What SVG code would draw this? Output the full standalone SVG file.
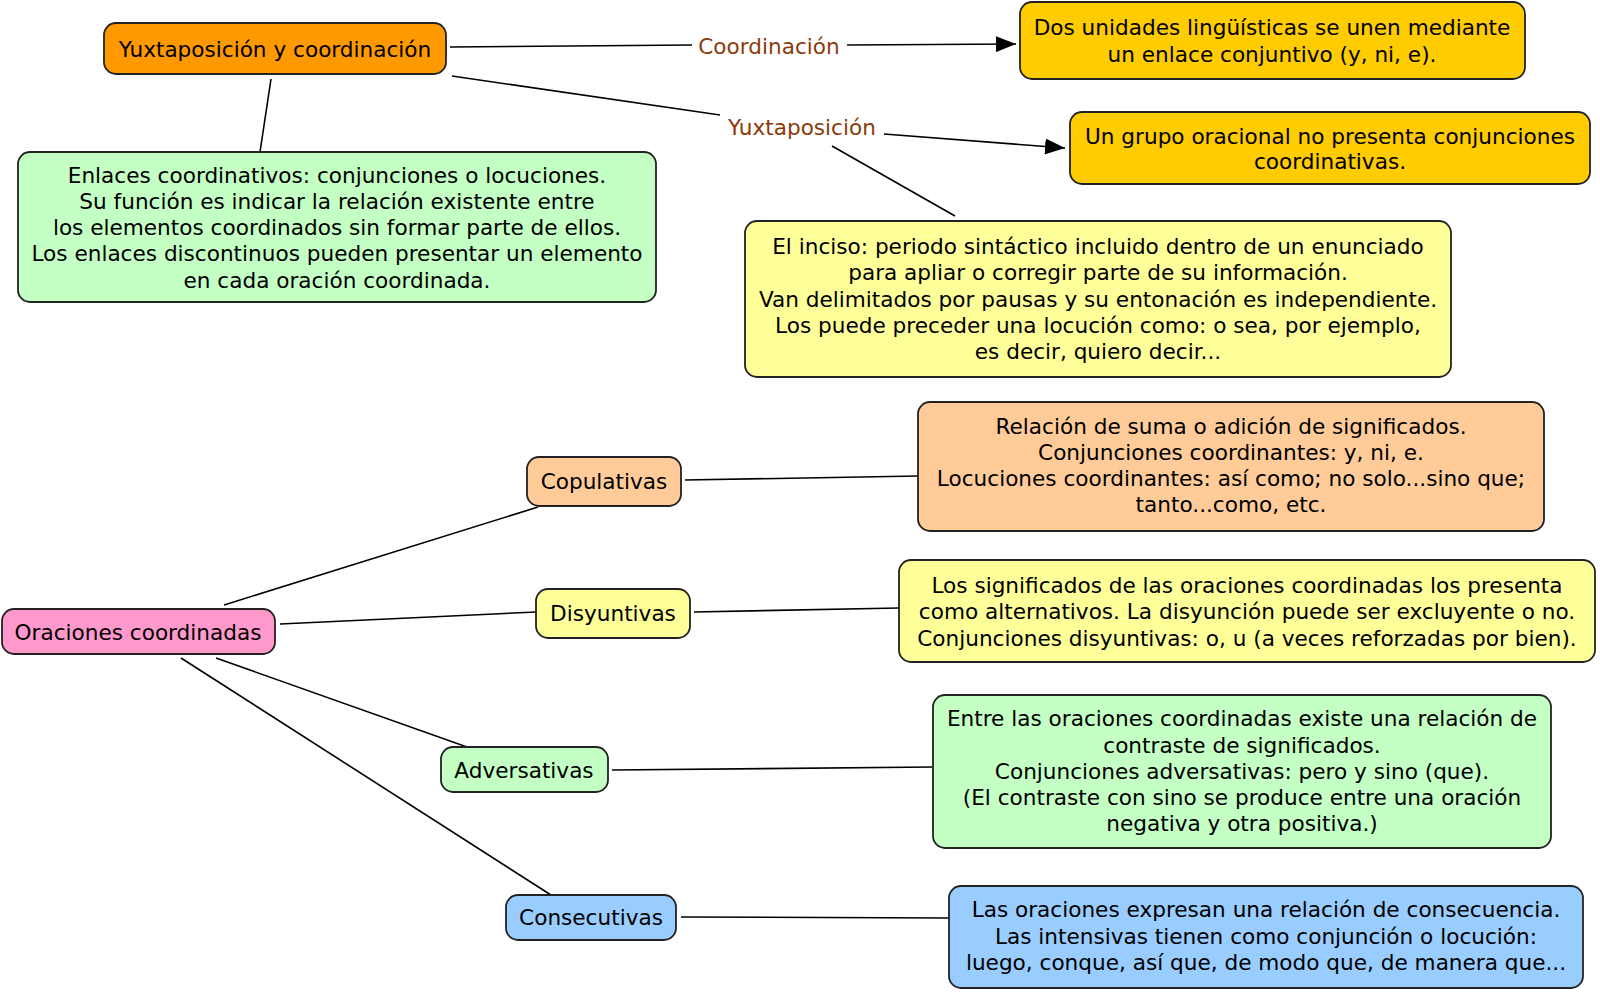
<svg xmlns="http://www.w3.org/2000/svg" width="1600" height="993" viewBox="0 0 1600 993">
<style>
.n{stroke:#222;stroke-width:1.8}
.t{font-family:"DejaVu Sans",Verdana,sans-serif;font-size:21.6px;fill:#000;text-anchor:middle;dominant-baseline:central}
.l{font-family:"DejaVu Sans",Verdana,sans-serif;font-size:21.6px;fill:#8B3A0A;text-anchor:middle;dominant-baseline:central}
.c{stroke:#000;stroke-width:1.6;fill:none}
</style>
<defs>
<marker id="ah" viewBox="0 0 20 16" refX="20" refY="8" markerWidth="20" markerHeight="16" markerUnits="userSpaceOnUse" orient="auto">
<path d="M0,0 L20,8 L0,16 Z" fill="#000"/>
</marker>
</defs>
<rect width="1600" height="993" fill="#fff"/>
<g id="connectors">
<line class="c" x1="450" y1="47" x2="692" y2="45"/>
<line class="c" x1="847" y1="45" x2="1016" y2="44" marker-end="url(#ah)"/>
<line class="c" x1="452" y1="76" x2="720" y2="115"/>
<line class="c" x1="884" y1="134" x2="1065" y2="148" marker-end="url(#ah)"/>
<line class="c" x1="832" y1="146" x2="955" y2="216"/>
<line class="c" x1="271" y1="79" x2="260" y2="152"/>
<line class="c" x1="224" y1="605" x2="538" y2="507"/>
<line class="c" x1="280" y1="624" x2="536" y2="612"/>
<line class="c" x1="216" y1="658" x2="467" y2="747"/>
<line class="c" x1="181" y1="658" x2="551" y2="895"/>
<line class="c" x1="685" y1="480" x2="918" y2="476"/>
<line class="c" x1="694" y1="612" x2="899" y2="608"/>
<line class="c" x1="612" y1="770" x2="933" y2="767"/>
<line class="c" x1="681" y1="917" x2="949" y2="918"/>
<text class="l" x="769" y="46">Coordinación</text>
<text class="l" x="802" y="127">Yuxtaposición</text>
</g>
<g id="yuxtaposicion-coordinacion">
<rect class="n" x="104" y="23" width="342" height="51" rx="12" fill="#FF9900"/>
<text class="t" x="275" y="49">Yuxtaposición y coordinación</text>
</g>
<g id="coordinacion-def">
<rect class="n" x="1020" y="2" width="505" height="77" rx="12" fill="#FFCC00"/>
<text class="t" x="1272" y="27">Dos unidades lingüísticas se unen mediante</text>
<text class="t" x="1272" y="54">un enlace conjuntivo (y, ni, e).</text>
</g>
<g id="yuxtaposicion-def">
<rect class="n" x="1070" y="112" width="520" height="72" rx="12" fill="#FFCC00"/>
<text class="t" x="1330" y="136">Un grupo oracional no presenta conjunciones</text>
<text class="t" x="1330" y="161">coordinativas.</text>
</g>
<g id="enlaces">
<rect class="n" x="18" y="152" width="638" height="150" rx="12" fill="#C4FFC4"/>
<text class="t" x="337" y="175">Enlaces coordinativos: conjunciones o locuciones.</text>
<text class="t" x="337" y="201">Su función es indicar la relación existente entre</text>
<text class="t" x="337" y="227">los elementos coordinados sin formar parte de ellos.</text>
<text class="t" x="337" y="253">Los enlaces discontinuos pueden presentar un elemento</text>
<text class="t" x="337" y="280">en cada oración coordinada.</text>
</g>
<g id="inciso">
<rect class="n" x="745" y="221" width="706" height="156" rx="12" fill="#FFFF99"/>
<text class="t" x="1098" y="246">El inciso: periodo sintáctico incluido dentro de un enunciado</text>
<text class="t" x="1098" y="272">para apliar o corregir parte de su información.</text>
<text class="t" x="1098" y="299">Van delimitados por pausas y su entonación es independiente.</text>
<text class="t" x="1098" y="325">Los puede preceder una locución como: o sea, por ejemplo,</text>
<text class="t" x="1098" y="351">es decir, quiero decir...</text>
</g>
<g id="oraciones-coordinadas">
<rect class="n" x="2" y="609" width="273" height="45" rx="12" fill="#FF99CC"/>
<text class="t" x="138" y="632">Oraciones coordinadas</text>
</g>
<g id="copulativas">
<rect class="n" x="527" y="457" width="154" height="49" rx="12" fill="#FFCC99"/>
<text class="t" x="604" y="481">Copulativas</text>
</g>
<g id="disyuntivas">
<rect class="n" x="536" y="589" width="154" height="49" rx="12" fill="#FFFF99"/>
<text class="t" x="613" y="613">Disyuntivas</text>
</g>
<g id="adversativas">
<rect class="n" x="441" y="747" width="167" height="45" rx="12" fill="#C4FFC4"/>
<text class="t" x="524" y="770">Adversativas</text>
</g>
<g id="consecutivas">
<rect class="n" x="506" y="895" width="170" height="45" rx="12" fill="#99CCFF"/>
<text class="t" x="591" y="917">Consecutivas</text>
</g>
<g id="copulativas-def">
<rect class="n" x="918" y="402" width="626" height="129" rx="12" fill="#FFCC99"/>
<text class="t" x="1231" y="426">Relación de suma o adición de significados.</text>
<text class="t" x="1231" y="452">Conjunciones coordinantes: y, ni, e.</text>
<text class="t" x="1231" y="478">Locuciones coordinantes: así como; no solo...sino que;</text>
<text class="t" x="1231" y="504">tanto...como, etc.</text>
</g>
<g id="disyuntivas-def">
<rect class="n" x="899" y="560" width="696" height="102" rx="12" fill="#FFFF99"/>
<text class="t" x="1247" y="585">Los significados de las oraciones coordinadas los presenta</text>
<text class="t" x="1247" y="611">como alternativos. La disyunción puede ser excluyente o no.</text>
<text class="t" x="1247" y="638">Conjunciones disyuntivas: o, u (a veces reforzadas por bien).</text>
</g>
<g id="adversativas-def">
<rect class="n" x="933" y="695" width="618" height="153" rx="12" fill="#C4FFC4"/>
<text class="t" x="1242" y="718">Entre las oraciones coordinadas existe una relación de</text>
<text class="t" x="1242" y="745">contraste de significados.</text>
<text class="t" x="1242" y="771">Conjunciones adversativas: pero y sino (que).</text>
<text class="t" x="1242" y="797">(El contraste con sino se produce entre una oración</text>
<text class="t" x="1242" y="823">negativa y otra positiva.)</text>
</g>
<g id="consecutivas-def">
<rect class="n" x="949" y="886" width="634" height="102" rx="12" fill="#99CCFF"/>
<text class="t" x="1266" y="909">Las oraciones expresan una relación de consecuencia.</text>
<text class="t" x="1266" y="936">Las intensivas tienen como conjunción o locución:</text>
<text class="t" x="1266" y="962">luego, conque, así que, de modo que, de manera que...</text>
</g>
</svg>
